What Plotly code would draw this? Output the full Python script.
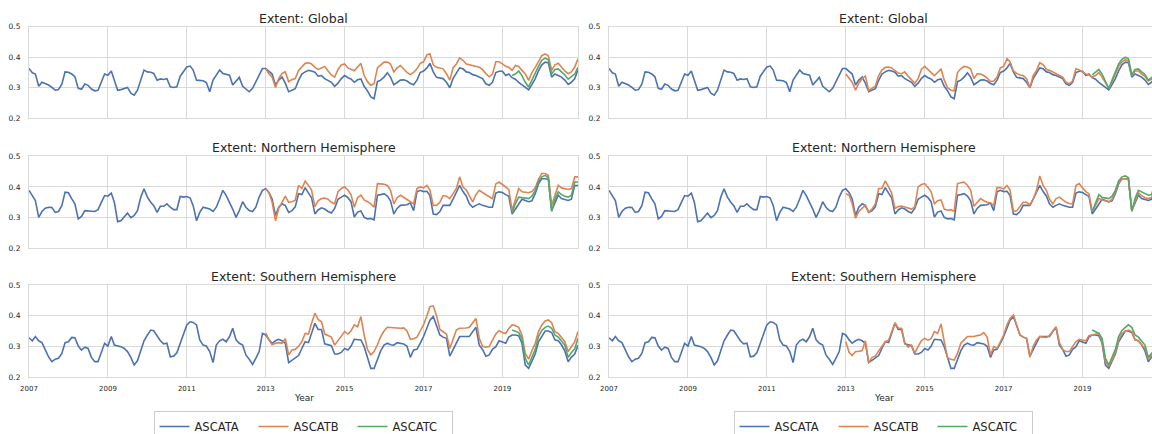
import pandas as pd
import plotly.graph_objects as go

# ---------------- data ----------------
dates_all = pd.date_range("2007-01-01", "2020-12-01", freq="MS")
dates_b = pd.date_range("2013-01-01", "2020-12-01", freq="MS")
dates_c = pd.date_range("2019-04-01", "2020-12-01", freq="MS")

panel_titles = ["Extent: Global", "Extent: Northern Hemisphere", "Extent: Southern Hemisphere"]
series_names = ["ASCATA", "ASCATB", "ASCATC"]
year_ticks = [2007, 2009, 2011, 2013, 2015, 2017, 2019]
y_ticks = [0.2, 0.3, 0.4, 0.5]

global_a = [
    0.363, 0.349, 0.345, 0.305, 0.318, 0.314, 0.309, 0.301, 0.292, 0.294, 0.312, 0.352,
    0.351, 0.345, 0.336, 0.298, 0.295, 0.312, 0.308, 0.296, 0.290, 0.292, 0.320, 0.345,
    0.341, 0.355, 0.325, 0.292, 0.294, 0.298, 0.301, 0.282, 0.276, 0.292, 0.325, 0.358,
    0.352, 0.351, 0.347, 0.325, 0.329, 0.327, 0.330, 0.303, 0.301, 0.303, 0.338, 0.352,
    0.368, 0.371, 0.358, 0.325, 0.323, 0.323, 0.317, 0.287, 0.325, 0.341, 0.358, 0.347,
    0.345, 0.341, 0.309, 0.320, 0.334, 0.305, 0.295, 0.287, 0.298, 0.320, 0.345, 0.363,
    0.363, 0.352, 0.345, 0.309, 0.325, 0.335, 0.315, 0.287, 0.292, 0.297, 0.324, 0.345,
    0.352, 0.357, 0.355, 0.351, 0.338, 0.340, 0.330, 0.324, 0.318, 0.305, 0.315, 0.330,
    0.340, 0.333, 0.329, 0.318, 0.326, 0.329, 0.305, 0.290, 0.270, 0.264, 0.320, 0.325,
    0.335, 0.349, 0.335, 0.310, 0.318, 0.325, 0.326, 0.322, 0.314, 0.310, 0.325, 0.350,
    0.355, 0.365, 0.380, 0.352, 0.334, 0.333, 0.330, 0.318, 0.300, 0.330, 0.350, 0.365,
    0.362, 0.352, 0.350, 0.343, 0.340, 0.335, 0.330, 0.313, 0.308, 0.318, 0.350, 0.354,
    0.354, 0.340, 0.345, 0.333, 0.328, 0.318, 0.310, 0.300, 0.293, 0.310, 0.330, 0.355,
    0.375, 0.384, 0.382, 0.335, 0.345, 0.340, 0.335, 0.325, 0.311, 0.318, 0.330, 0.359,
]
global_b_raw = [
    0.363, 0.345, 0.335, 0.301, 0.330, 0.347, 0.352, 0.320, 0.327, 0.330, 0.357, 0.370,
    0.380, 0.382, 0.378, 0.367, 0.360, 0.365, 0.370, 0.355, 0.342, 0.335, 0.360, 0.375,
    0.378, 0.365, 0.360, 0.356, 0.368, 0.380, 0.340, 0.320, 0.308, 0.313, 0.365, 0.375,
    0.384, 0.384, 0.378, 0.352, 0.365, 0.373, 0.360, 0.350, 0.343, 0.350, 0.362, 0.380,
    0.385, 0.408, 0.411, 0.375, 0.367, 0.365, 0.362, 0.346, 0.325, 0.365, 0.378, 0.398,
    0.390, 0.378, 0.376, 0.373, 0.370, 0.367, 0.360, 0.346, 0.336, 0.345, 0.385, 0.385,
    0.378, 0.370, 0.367, 0.357, 0.373, 0.370, 0.357, 0.345, 0.324, 0.350, 0.367, 0.385,
    0.405, 0.411, 0.405, 0.357, 0.375, 0.380, 0.367, 0.355, 0.346, 0.352, 0.368, 0.395,
]
global_c_raw = [0.340, 0.345, 0.355, 0.340, 0.318, 0.302, 0.325, 0.350, 0.370, 0.390, 0.397,
                0.392, 0.345, 0.360, 0.362, 0.352, 0.342, 0.328, 0.335, 0.345, 0.367]
global_b_adj = [
    0.345, 0.332, 0.318, 0.292, 0.315, 0.330, 0.338, 0.291, 0.298, 0.305, 0.340, 0.358,
    0.367, 0.368, 0.365, 0.355, 0.348, 0.346, 0.352, 0.338, 0.328, 0.315, 0.330, 0.360,
    0.370, 0.360, 0.350, 0.340, 0.350, 0.362, 0.325, 0.300, 0.292, 0.290, 0.350, 0.362,
    0.370, 0.368, 0.362, 0.330, 0.346, 0.345, 0.340, 0.332, 0.320, 0.322, 0.335, 0.365,
    0.370, 0.395, 0.385, 0.355, 0.347, 0.342, 0.340, 0.330, 0.300, 0.340, 0.357, 0.382,
    0.376, 0.360, 0.357, 0.352, 0.345, 0.340, 0.335, 0.318, 0.313, 0.322, 0.362, 0.358,
    0.350, 0.345, 0.342, 0.335, 0.340, 0.350, 0.335, 0.315, 0.298, 0.320, 0.345, 0.370,
    0.385, 0.392, 0.388, 0.340, 0.355, 0.355, 0.345, 0.337, 0.322, 0.328, 0.340, 0.362,
]
global_c_adj = [0.342, 0.350, 0.360, 0.345, 0.318, 0.297, 0.325, 0.352, 0.378, 0.393, 0.400,
                0.395, 0.342, 0.360, 0.362, 0.352, 0.343, 0.325, 0.333, 0.342, 0.365]

nh_a = [
    0.389, 0.370, 0.356, 0.301, 0.320, 0.331, 0.334, 0.333, 0.317, 0.320, 0.339, 0.383,
    0.381, 0.361, 0.345, 0.296, 0.304, 0.323, 0.321, 0.321, 0.320, 0.326, 0.350, 0.372,
    0.370, 0.380, 0.350, 0.287, 0.290, 0.301, 0.315, 0.300, 0.307, 0.323, 0.367, 0.394,
    0.367, 0.350, 0.339, 0.317, 0.337, 0.337, 0.345, 0.334, 0.326, 0.326, 0.369, 0.367,
    0.369, 0.364, 0.339, 0.290, 0.317, 0.334, 0.332, 0.328, 0.320, 0.334, 0.361, 0.389,
    0.372, 0.350, 0.328, 0.301, 0.323, 0.352, 0.334, 0.323, 0.320, 0.334, 0.367, 0.389,
    0.394, 0.381, 0.361, 0.307, 0.334, 0.345, 0.339, 0.317, 0.323, 0.335, 0.378, 0.375,
    0.398, 0.380, 0.365, 0.312, 0.325, 0.332, 0.328, 0.320, 0.315, 0.330, 0.360, 0.367,
    0.373, 0.365, 0.352, 0.302, 0.318, 0.322, 0.301, 0.296, 0.297, 0.293, 0.373, 0.375,
    0.378, 0.370, 0.355, 0.312, 0.330, 0.340, 0.342, 0.342, 0.348, 0.323, 0.384, 0.389,
    0.385, 0.386, 0.372, 0.312, 0.310, 0.320, 0.340, 0.340, 0.340, 0.360, 0.381, 0.405,
    0.385, 0.370, 0.345, 0.334, 0.340, 0.345, 0.340, 0.337, 0.334, 0.334, 0.380, 0.384,
    0.382, 0.375, 0.370, 0.312, 0.328, 0.345, 0.360, 0.356, 0.352, 0.355, 0.378, 0.410,
    0.427, 0.427, 0.425, 0.323, 0.345, 0.373, 0.362, 0.358, 0.356, 0.360, 0.405, 0.405,
]
nh_b_raw = [
    0.394, 0.380, 0.350, 0.290, 0.330, 0.350, 0.370, 0.350, 0.352, 0.357, 0.405, 0.395,
    0.419, 0.405, 0.390, 0.336, 0.355, 0.362, 0.364, 0.360, 0.350, 0.345, 0.385, 0.395,
    0.400, 0.390, 0.375, 0.334, 0.365, 0.373, 0.358, 0.352, 0.345, 0.334, 0.411, 0.410,
    0.409, 0.405, 0.390, 0.345, 0.365, 0.373, 0.365, 0.359, 0.352, 0.345, 0.395, 0.400,
    0.397, 0.405, 0.390, 0.340, 0.340, 0.350, 0.372, 0.370, 0.362, 0.380, 0.395, 0.433,
    0.400, 0.390, 0.370, 0.351, 0.375, 0.389, 0.382, 0.375, 0.368, 0.362, 0.410, 0.416,
    0.408, 0.400, 0.392, 0.323, 0.360, 0.395, 0.384, 0.383, 0.381, 0.385, 0.397, 0.425,
    0.444, 0.444, 0.438, 0.340, 0.375, 0.405, 0.397, 0.395, 0.392, 0.395, 0.433, 0.433,
]
nh_c_raw = [0.315, 0.345, 0.367, 0.366, 0.364, 0.362, 0.370, 0.389, 0.418, 0.433, 0.438,
            0.430, 0.320, 0.360, 0.384, 0.375, 0.370, 0.367, 0.373, 0.416, 0.416]
nh_b_adj = [
    0.378, 0.373, 0.345, 0.298, 0.320, 0.330, 0.340, 0.318, 0.328, 0.345, 0.395, 0.395,
    0.420, 0.400, 0.380, 0.330, 0.336, 0.338, 0.335, 0.330, 0.328, 0.335, 0.400, 0.408,
    0.411, 0.398, 0.385, 0.345, 0.355, 0.358, 0.328, 0.324, 0.326, 0.320, 0.411, 0.414,
    0.416, 0.405, 0.390, 0.337, 0.350, 0.362, 0.355, 0.350, 0.348, 0.340, 0.398, 0.398,
    0.393, 0.405, 0.390, 0.320, 0.322, 0.335, 0.350, 0.350, 0.342, 0.360, 0.389, 0.436,
    0.405, 0.388, 0.360, 0.345, 0.362, 0.367, 0.358, 0.350, 0.346, 0.345, 0.405, 0.411,
    0.397, 0.385, 0.378, 0.320, 0.340, 0.362, 0.358, 0.355, 0.351, 0.360, 0.384, 0.415,
    0.427, 0.427, 0.425, 0.323, 0.355, 0.381, 0.372, 0.365, 0.362, 0.365, 0.370, 0.365,
]
nh_c_adj = [0.320, 0.350, 0.375, 0.366, 0.363, 0.362, 0.370, 0.389, 0.420, 0.433, 0.436,
            0.430, 0.320, 0.362, 0.389, 0.384, 0.378, 0.373, 0.375, 0.410, 0.412]

sh_a = [
    0.328, 0.318, 0.332, 0.318, 0.312, 0.288, 0.266, 0.250, 0.258, 0.261, 0.277, 0.312,
    0.315, 0.329, 0.328, 0.301, 0.288, 0.297, 0.293, 0.264, 0.250, 0.250, 0.283, 0.310,
    0.301, 0.332, 0.304, 0.301, 0.299, 0.293, 0.283, 0.264, 0.239, 0.253, 0.288, 0.318,
    0.337, 0.353, 0.351, 0.332, 0.318, 0.308, 0.310, 0.266, 0.268, 0.279, 0.310, 0.337,
    0.370, 0.380, 0.378, 0.370, 0.321, 0.304, 0.301, 0.283, 0.247, 0.304, 0.318, 0.323,
    0.315, 0.332, 0.359, 0.321, 0.310, 0.304, 0.272, 0.258, 0.241, 0.261, 0.283, 0.342,
    0.337, 0.321, 0.310, 0.318, 0.323, 0.318, 0.310, 0.247, 0.255, 0.262, 0.270, 0.293,
    0.315, 0.312, 0.340, 0.375, 0.355, 0.355, 0.308, 0.305, 0.302, 0.275, 0.275, 0.280,
    0.293, 0.288, 0.300, 0.323, 0.322, 0.321, 0.299, 0.260, 0.228, 0.228, 0.255, 0.285,
    0.304, 0.310, 0.305, 0.304, 0.312, 0.310, 0.308, 0.300, 0.264, 0.288, 0.290, 0.310,
    0.332, 0.360, 0.385, 0.397, 0.370, 0.337, 0.330, 0.326, 0.268, 0.290, 0.315, 0.332,
    0.332, 0.332, 0.332, 0.348, 0.362, 0.304, 0.290, 0.268, 0.272, 0.290, 0.299, 0.318,
    0.314, 0.310, 0.330, 0.337, 0.337, 0.335, 0.310, 0.239, 0.228, 0.250, 0.275, 0.315,
    0.335, 0.350, 0.350, 0.345, 0.321, 0.318, 0.305, 0.285, 0.250, 0.265, 0.275, 0.304,
]
sh_b_raw = [
    0.343, 0.320, 0.305, 0.310, 0.312, 0.310, 0.325, 0.272, 0.288, 0.290, 0.300, 0.315,
    0.342, 0.340, 0.375, 0.408, 0.388, 0.380, 0.340, 0.335, 0.330, 0.304, 0.318, 0.332,
    0.348, 0.340, 0.350, 0.370, 0.364, 0.397, 0.337, 0.290, 0.272, 0.283, 0.305, 0.332,
    0.350, 0.362, 0.362, 0.362, 0.360, 0.359, 0.360, 0.350, 0.323, 0.325, 0.330, 0.350,
    0.370, 0.400, 0.429, 0.432, 0.400, 0.355, 0.348, 0.340, 0.293, 0.320, 0.353, 0.359,
    0.359, 0.360, 0.362, 0.375, 0.391, 0.326, 0.300, 0.297, 0.299, 0.320, 0.340, 0.351,
    0.345, 0.342, 0.358, 0.370, 0.368, 0.362, 0.337, 0.277, 0.258, 0.285, 0.310, 0.348,
    0.370, 0.383, 0.386, 0.377, 0.348, 0.342, 0.330, 0.315, 0.283, 0.300, 0.315, 0.348,
]
sh_c_raw = [0.353, 0.350, 0.345, 0.326, 0.261, 0.239, 0.262, 0.290, 0.332, 0.352, 0.362,
            0.366, 0.359, 0.337, 0.330, 0.318, 0.304, 0.264, 0.280, 0.292, 0.326]
sh_b_adj = [
    0.315, 0.280, 0.270, 0.283, 0.283, 0.286, 0.318, 0.247, 0.264, 0.268, 0.285, 0.300,
    0.315, 0.320, 0.345, 0.377, 0.360, 0.359, 0.312, 0.297, 0.304, 0.277, 0.300, 0.318,
    0.326, 0.320, 0.325, 0.348, 0.342, 0.373, 0.315, 0.262, 0.258, 0.255, 0.277, 0.310,
    0.321, 0.332, 0.332, 0.332, 0.335, 0.337, 0.345, 0.330, 0.272, 0.299, 0.293, 0.315,
    0.337, 0.370, 0.391, 0.402, 0.370, 0.337, 0.330, 0.326, 0.264, 0.300, 0.321, 0.332,
    0.330, 0.329, 0.335, 0.348, 0.364, 0.312, 0.290, 0.283, 0.283, 0.300, 0.315, 0.323,
    0.320, 0.318, 0.335, 0.337, 0.340, 0.342, 0.315, 0.250, 0.236, 0.255, 0.280, 0.321,
    0.342, 0.350, 0.353, 0.348, 0.321, 0.318, 0.305, 0.293, 0.261, 0.270, 0.285, 0.310,
]
sh_c_adj = [0.353, 0.348, 0.342, 0.326, 0.261, 0.239, 0.262, 0.290, 0.332, 0.352, 0.362,
            0.370, 0.362, 0.337, 0.330, 0.318, 0.304, 0.264, 0.275, 0.290, 0.320]

# ---------------- figure ----------------
W, H = 1152, 434
colors = ["#4C72B0", "#DD8452", "#55A868"]
FONT = "DejaVu Sans"
TXT = "#262626"
GRID = "#d9d9d9"

panels = [
    # (row, col, A, B, C)
    (0, 0, global_a, global_b_raw, global_c_raw),
    (0, 1, global_a, global_b_adj, global_c_adj),
    (1, 0, nh_a, nh_b_raw, nh_c_raw),
    (1, 1, nh_a, nh_b_adj, nh_c_adj),
    (2, 0, sh_a, sh_b_raw, sh_c_raw),
    (2, 1, sh_a, sh_b_adj, sh_c_adj),
]

# pixel geometry of the plot areas
col_x = [(29, 578), (609, 1152)]
row_y = [(26.7, 118.3), (156.3, 248.3), (285, 377)]
col_range = [["2007-01-01", "2020-12-01"], ["2007-01-01", "2020-10-05"]]

fig = go.Figure()
layout = {}
annotations = []
for (r, c, a, b, cc) in panels:
    idx = r * 2 + c + 1
    xa = "x" if idx == 1 else f"x{idx}"
    ya = "y" if idx == 1 else f"y{idx}"
    leg = "legend" if c == 0 else "legend2"
    for k, (xs, ys) in enumerate([(dates_all, a), (dates_b, b), (dates_c, cc)]):
        fig.add_trace(go.Scatter(
            x=xs, y=ys, mode="lines", name=series_names[k],
            line=dict(color=colors[k], width=1.6),
            xaxis=xa, yaxis=ya, legend=leg, showlegend=(r == 0),
        ))
    x0, x1 = col_x[c]
    y0, y1 = row_y[r]
    xkey = "xaxis" if idx == 1 else f"xaxis{idx}"
    ykey = "yaxis" if idx == 1 else f"yaxis{idx}"
    layout[xkey] = dict(
        domain=[x0 / W, x1 / W], anchor=ya, range=col_range[c], type="date",
        tickvals=[f"{yr}-01-01" for yr in year_ticks], ticktext=[str(yr) for yr in year_ticks],
        showticklabels=(r == 2), ticks="", ticklabelstandoff=5,
        tickfont=dict(family=FONT, size=7, color=TXT),
        showgrid=True, gridcolor=GRID, gridwidth=1,
        showline=True, linecolor=GRID, linewidth=1, mirror=True, zeroline=False,
    )
    layout[ykey] = dict(
        domain=[(H - y1) / H, (H - y0) / H], anchor=xa, range=[0.2, 0.5],
        tickvals=y_ticks, ticktext=[f"{v:.1f}" for v in y_ticks], ticks="",
        ticklabelstandoff=6,
        tickfont=dict(family=FONT, size=7.5, color=TXT),
        showgrid=True, gridcolor=GRID, gridwidth=1,
        showline=True, linecolor=GRID, linewidth=1, mirror=True, zeroline=False,
    )
    # subplot title
    cx = (x0 + x0 + 549) / 2
    annotations.append(dict(
        text=panel_titles[r], x=cx / W, y=(H - y0 + 8.5) / H, xref="paper", yref="paper",
        xanchor="center", yanchor="middle", showarrow=False,
        font=dict(family=FONT, size=12.5, color=TXT),
    ))
    if r == 2:
        annotations.append(dict(
            text="Year", x=cx / W, y=(H - 398) / H, xref="paper", yref="paper",
            xanchor="center", yanchor="middle", showarrow=False,
            font=dict(family=FONT, size=9, color=TXT),
        ))

legend_common = dict(
    orientation="h", xanchor="center", yanchor="top", y=(H - 411) / H,
    bordercolor="#cccccc", borderwidth=1, bgcolor="white",
    font=dict(family=FONT, size=11.5, color=TXT), itemwidth=30,
    entrywidth=54, entrywidthmode="pixels", tracegroupgap=0,
)
layout["legend"] = dict(x=303 / W, **legend_common)
layout["legend2"] = dict(x=883 / W, **legend_common)

fig.update_layout(
    width=W, height=H,
    margin=dict(l=0, r=0, t=0, b=0, autoexpand=False),
    paper_bgcolor="white", plot_bgcolor="white",
    font=dict(family=FONT, color=TXT),
    annotations=annotations,
    **layout,
)

fig.write_html("out.html")
